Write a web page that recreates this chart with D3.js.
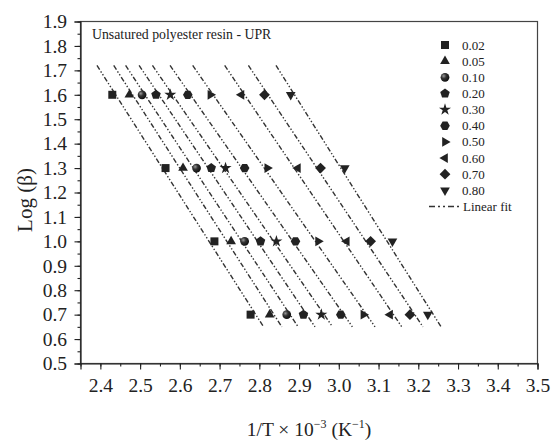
<!DOCTYPE html>
<html><head><meta charset="utf-8">
<script src="https://cdn.jsdelivr.net/npm/d3@7"></script>
<style>body{margin:0;background:#fff}svg{display:block}</style>
</head><body>
<svg id="c" width="551" height="440"></svg>
<script>
const seriesNames = ["0.02","0.05","0.10","0.20","0.30","0.40","0.50","0.60","0.70","0.80"];
const logBeta = [1.6, 1.3, 1.0, 0.7];
const invT_002 = [2.430, 2.564, 2.687, 2.778];
const invT_005 = [2.473, 2.608, 2.729, 2.826];
const invT_010 = [2.505, 2.642, 2.763, 2.869];
const invT_020 = [2.540, 2.679, 2.803, 2.911];
const invT_030 = [2.576, 2.715, 2.843, 2.956];
const invT_040 = [2.620, 2.763, 2.891, 3.005];
const invT_050 = [2.677, 2.820, 2.948, 3.062];
const invT_060 = [2.755, 2.897, 3.020, 3.129];
const invT_070 = [2.813, 2.954, 3.080, 3.179];
const invT_080 = [2.879, 3.015, 3.135, 3.224];
const seriesX = [invT_002, invT_005, invT_010, invT_020, invT_030, invT_040, invT_050, invT_060, invT_070, invT_080];
const xTicks = [2.4,2.5,2.6,2.7,2.8,2.9,3.0,3.1,3.2,3.3,3.4,3.5];
const yTicks = [0.5,0.6,0.7,0.8,0.9,1.0,1.1,1.2,1.3,1.4,1.5,1.6,1.7,1.8,1.9];
const fitRange = [1.72, 0.65];

const svg = d3.select("#c");
const L = 80.5, R = 537.5, T = 21.5, B = 363.5;
const x = d3.scaleLinear().domain([2.35, 3.5]).range([L, R]);
const y = d3.scaleLinear().domain([0.5, 1.9]).range([B, T]);
const font = "Liberation Serif, Times New Roman, serif";
const ink = "#222";

const defs = svg.append("defs");
const rg = defs.append("radialGradient").attr("id","sph").attr("cx","35%").attr("cy","35%").attr("r","65%");
rg.append("stop").attr("offset","0%").attr("stop-color","#999");
rg.append("stop").attr("offset","45%").attr("stop-color","#333");
rg.append("stop").attr("offset","100%").attr("stop-color","#111");

function poly(n, r, rot) {
  const pts = d3.range(n).map(i => {
    const a = rot + i * 2 * Math.PI / n;
    return [r * Math.cos(a), r * Math.sin(a)];
  });
  return "M" + pts.map(p => p[0].toFixed(2) + "," + p[1].toFixed(2)).join("L") + "Z";
}
const shapes = [
  () => "M-4,-4H4V4H-4Z",
  () => poly(3, 5.6, -Math.PI/2),
  () => d3.symbol(d3.symbolCircle, 60)(),
  () => poly(5, 5, -Math.PI/2),
  () => d3.symbol(d3.symbolStar, 45)(),
  () => poly(6, 4.8, 0),
  () => poly(3, 5.6, 0),
  () => poly(3, 5.6, Math.PI),
  () => poly(4, 5.4, 0),
  () => poly(3, 5.6, Math.PI/2)
];
function drawSym(g, i, cx, cy) {
  g.append("path").attr("d", shapes[i]())
    .attr("transform", `translate(${cx},${cy})`)
    .attr("fill", i === 2 ? "url(#sph)" : ink);
}

svg.append("rect").attr("x", L).attr("y", T).attr("width", R - L).attr("height", B - T)
  .attr("fill","none").attr("stroke","#444").attr("stroke-width",1.2);

const xMinor = d3.range(2.35, 3.5001, 0.05).map(v => +v.toFixed(2));
const yMinor = d3.range(0.5, 1.9001, 0.05).map(v => +v.toFixed(2));
const gx = svg.append("g").attr("transform", `translate(0,${B})`);
gx.call(d3.axisBottom(x).tickValues(xMinor).tickSize(3).tickFormat(""));
gx.call(g => g.select(".domain").remove());
const gx2 = svg.append("g").attr("transform", `translate(0,${B})`)
  .call(d3.axisBottom(x).tickValues(xTicks).tickSize(6).tickPadding(9).tickFormat(d3.format(".1f")));
gx2.select(".domain").attr("stroke", ink).attr("stroke-width",1.2);
gx2.selectAll("text").attr("font-family", font).attr("font-size", 19.5).attr("fill", ink);

const gy = svg.append("g").attr("transform", `translate(${L},0)`);
gy.call(d3.axisLeft(y).tickValues(yMinor).tickSize(3).tickFormat(""));
gy.call(g => g.select(".domain").remove());
const gy2 = svg.append("g").attr("transform", `translate(${L},0)`)
  .call(d3.axisLeft(y).tickValues(yTicks).tickSize(6).tickPadding(7.5).tickFormat(d3.format(".1f")));
gy2.select(".domain").attr("stroke", ink).attr("stroke-width",1.2);
gy2.selectAll("text").attr("font-family", font).attr("font-size", 19.5).attr("fill", ink);
svg.selectAll(".tick line").attr("stroke", ink).attr("stroke-width", 1.1);

svg.append("text").attr("transform", `translate(32,200) rotate(-90)`)
  .attr("text-anchor","middle").attr("font-family", font).attr("font-size", 21).attr("fill", ink)
  .text("Log (β)");
const xt = svg.append("text").attr("x", (L + R) / 2).attr("y", 436).attr("text-anchor","middle")
  .attr("font-family", font).attr("font-size", 19.5).attr("fill", ink);
xt.append("tspan").text("1/T × 10");
xt.append("tspan").attr("dy", -8).attr("font-size", 12).text("−3");
xt.append("tspan").attr("dy", 8).text(" (K");
xt.append("tspan").attr("dy", -8).attr("font-size", 12).text("−1");
xt.append("tspan").attr("dy", 8).text(")");

svg.append("text").attr("x", 92).attr("y", 39).attr("font-family", font).attr("font-size", 13.8)
  .attr("fill", ink).text("Unsatured polyester resin - UPR");

const dash = "5,2,1.4,2,1.4,2";
seriesX.forEach((xs, i) => {
  const mx = d3.mean(xs), my = d3.mean(logBeta);
  let sxy = 0, sxx = 0;
  xs.forEach((v, k) => { sxy += (v - mx) * (logBeta[k] - my); sxx += (v - mx) * (v - mx); });
  const m = sxy / sxx, c = my - m * mx;
  const xa = (fitRange[0] - c) / m, xb = (fitRange[1] - c) / m;
  svg.append("line").attr("x1", x(xa)).attr("y1", y(fitRange[0])).attr("x2", x(xb)).attr("y2", y(fitRange[1]))
    .attr("stroke", "#333").attr("stroke-width", 1.4).attr("stroke-dasharray", dash);
});

const gp = svg.append("g");
seriesX.forEach((xs, i) => {
  xs.forEach((v, k) => drawSym(gp, i, x(v), y(logBeta[k])));
});

const lg = svg.append("g");
seriesNames.forEach((s, i) => {
  const cy = 45 + i * 16.15;
  drawSym(lg, i, 445, cy);
  lg.append("text").attr("x", 462).attr("y", cy + 4.5).attr("font-family", font).attr("font-size", 13)
    .attr("fill", ink).text(s);
});
const ly = 45 + 10 * 16.15;
lg.append("line").attr("x1", 429).attr("x2", 461).attr("y1", ly).attr("y2", ly)
  .attr("stroke", "#333").attr("stroke-width", 1.6).attr("stroke-dasharray", "6,3,2,3,2,3");
lg.append("text").attr("x", 463).attr("y", ly + 4.5).attr("font-family", font).attr("font-size", 13)
  .attr("fill", ink).text("Linear fit");
</script>
</body></html>
